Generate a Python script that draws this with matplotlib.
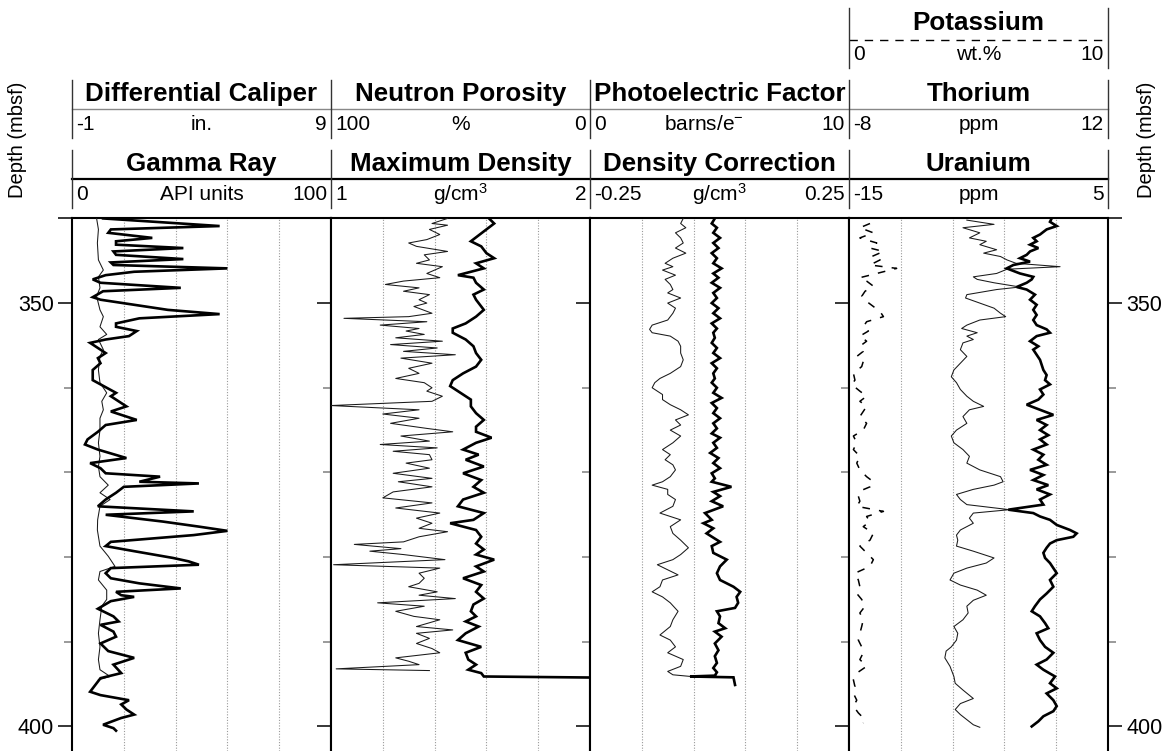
import matplotlib
matplotlib.use("Agg")
import matplotlib.pyplot as plt
from matplotlib.lines import Line2D

plt.rcParams['font.family'] = ['Liberation Sans', 'DejaVu Sans']
plt.rcParams['mathtext.fontset'] = 'custom'
plt.rcParams['mathtext.rm'] = 'Liberation Sans'
plt.rcParams['mathtext.it'] = 'Liberation Sans:italic'
plt.rcParams['mathtext.bf'] = 'Liberation Sans:bold'

# ---------------- data (depth in mbsf) ----------------
gr_depth = [340.0, 340.9, 341.3, 341.7, 342.3, 342.7, 343.1, 343.5, 343.9, 344.3, 344.8, 345.2, 345.5, 345.9,
            346.3, 346.7, 347.2, 347.6, 348.2, 348.6, 349.3, 349.6, 350.2, 350.8, 351.3, 351.8, 352.4, 352.8,
            353.3, 353.9, 354.3, 354.7, 355.5, 355.9, 356.5, 357.1, 357.9, 358.5, 359.1, 359.6, 360.6, 361.0,
            361.6, 362.2, 362.8, 363.8, 364.4, 365.2, 366.1, 366.7, 367.3, 368.3, 368.9, 369.5, 370.1, 370.5,
            371.1, 371.3, 371.7, 372.4, 373.2, 374.0, 374.6, 375.0, 375.8, 376.4, 376.9, 377.4, 378.2, 378.7,
            379.3, 380.1, 380.5, 380.9, 381.3, 381.9, 382.5, 383.1, 383.7, 384.1, 384.5, 384.7, 385.2, 386.1,
            387.0, 387.6, 388.0, 388.8, 389.4, 390.2, 391.1, 391.9, 392.7, 393.7, 394.3, 395.1, 395.9, 396.3,
            396.9, 397.4, 398.0, 398.6, 399.0, 399.8, 400.2, 400.5]
gamma_ray = [12, 57, 15, 14, 31, 17, 17, 43, 16, 17, 43, 15, 16, 60, 24, 13, 8, 11, 42, 12, 8, 11, 24, 37,
             57, 26, 17, 17, 25, 22, 13, 7, 11, 13, 10, 11, 8, 8, 8, 11, 17, 15, 18, 21, 15, 25, 13, 10, 6, 5,
             10, 21, 7, 11, 13, 34, 26, 49, 20, 17, 13, 10, 47, 13, 35, 49, 60, 47, 15, 13, 24, 39, 45, 49, 15,
             13, 15, 26, 42, 17, 19, 24, 15, 10, 16, 18, 11, 16, 17, 11, 14, 24, 16, 19, 11, 9, 7, 11, 22, 19,
             21, 24, 19, 12, 16, 17]

cal_depth = [340.0, 341.3, 342.9, 344.9, 346.1, 346.9, 348.2, 349.2, 350.8, 351.6, 352.8, 353.7, 354.3, 355.5,
             356.3, 357.9, 359.4, 360.6, 361.6, 362.6, 363.6, 365.0, 366.5, 368.1, 369.3, 370.5, 371.5, 372.4,
             373.2, 374.0, 375.6, 376.8, 378.7, 379.9, 381.1, 381.7, 382.7, 383.9, 385.0, 385.8, 387.4, 389.0,
             390.6, 392.1, 393.3, 394.1, 394.5]
diff_caliper = [-0.05, 0.02, -0.02, 0.02, 0.21, 0.02, 0.08, -0.05, 0.08, 0.21, 0.08, 0.34, 0.02, 0.21, 0.08,
                0.02, 0.08, 0.34, 0.15, 0.21, 0.08, 0.08, 0.02, 0.08, 0.02, 0.08, 0.40, 0.08, 0.47, 0.08, -0.01,
                -0.02, 0.08, 0.40, 0.66, 0.08, 0.02, 0.34, 0.34, 0.15, 0.08, 0.02, 0.08, 0.02, 0.08, 0.47, 0.02]

np_depth = [340.0, 340.6, 340.8, 341.3, 341.9, 342.5, 342.9, 343.3, 343.9, 344.3, 344.9, 345.3, 345.7, 346.5,
            347.0, 347.4, 347.8, 348.2, 348.6, 349.0, 349.6, 350.0, 350.4, 351.2, 351.6, 351.8, 352.2, 352.6,
            353.0, 353.3, 353.7, 354.1, 354.5, 354.9, 355.3, 355.7, 356.1, 356.5, 357.1, 357.7, 358.3, 358.9,
            359.4, 360.0, 360.4, 361.0, 361.6, 362.1, 362.6, 363.1, 363.6, 364.2, 364.8, 365.2, 365.7, 366.3,
            366.7, 367.1, 367.5, 367.9, 368.5, 368.9, 369.5, 370.1, 370.7, 371.1, 371.7, 372.3, 373.0, 373.6,
            374.2, 374.8, 375.4, 376.0, 376.6, 377.0, 377.6, 378.2, 378.5, 379.0, 379.3, 379.7, 380.3, 380.9,
            381.3, 381.9, 382.5, 383.1, 383.5, 384.1, 384.5, 384.9, 385.4, 385.8, 386.4, 387.0, 387.4, 388.2,
            388.6, 389.0, 389.6, 390.2, 390.8, 391.3, 391.9, 392.3, 392.7, 393.2, 393.4]
neutron_porosity = [55, 61, 55, 62, 58, 63, 70, 67, 55, 64, 62, 67, 57, 63, 58, 72, 79, 66, 72, 62, 66, 63, 68,
                    61, 70, 95, 63, 81, 66, 71, 64, 75, 57, 77, 59, 72, 52, 73, 61, 70, 66, 75, 64, 61, 63, 57,
                    61, 100, 66, 80, 66, 77, 63, 53, 73, 62, 81, 59, 76, 62, 61, 71, 62, 76, 61, 74, 61, 76, 80,
                    61, 75, 58, 67, 61, 66, 55, 66, 72, 91, 73, 85, 72, 56, 99, 58, 66, 64, 66, 70, 59, 66, 52,
                    82, 64, 75, 68, 58, 67, 53, 67, 62, 67, 61, 58, 75, 70, 66, 98, 62]

md_depth = [340.0, 340.6, 341.3, 342.7, 343.3, 344.1, 344.7, 345.3, 345.9, 346.7, 347.0, 347.6, 348.4, 349.0,
            349.6, 350.8, 351.6, 352.4, 353.0, 353.5, 354.3, 355.1, 355.9, 356.7, 357.5, 358.3, 359.1, 359.8,
            360.6, 361.4, 362.2, 363.0, 363.8, 364.6, 365.2, 365.9, 366.5, 367.3, 367.9, 368.5, 369.3, 370.1,
            370.9, 371.7, 372.4, 373.2, 374.0, 374.8, 375.6, 376.0, 376.8, 377.6, 378.4, 379.1, 379.7, 380.3,
            381.1, 381.7, 382.5, 383.3, 384.1, 384.9, 385.6, 386.4, 387.0, 387.6, 388.2, 389.0, 389.8, 390.6,
            391.3, 392.1, 392.7, 393.3, 393.7, 394.1, 394.4]
max_density = [1.61, 1.63, 1.60, 1.54, 1.58, 1.60, 1.63, 1.56, 1.59, 1.49, 1.55, 1.56, 1.59, 1.55, 1.56, 1.59,
               1.56, 1.52, 1.47, 1.47, 1.52, 1.55, 1.56, 1.58, 1.56, 1.51, 1.47, 1.46, 1.50, 1.54, 1.54, 1.56,
               1.59, 1.56, 1.56, 1.62, 1.56, 1.51, 1.57, 1.52, 1.59, 1.51, 1.58, 1.55, 1.59, 1.51, 1.49, 1.59,
               1.55, 1.46, 1.56, 1.58, 1.56, 1.59, 1.56, 1.63, 1.56, 1.59, 1.51, 1.58, 1.56, 1.59, 1.55, 1.54,
               1.56, 1.52, 1.57, 1.52, 1.49, 1.58, 1.52, 1.53, 1.56, 1.53, 1.58, 1.59, 2.6]

pef_depth = [340.0, 340.6, 341.1, 341.7, 342.3, 342.9, 343.5, 344.1, 344.7, 345.3, 345.7, 346.1, 346.7, 347.2,
             347.8, 348.4, 348.8, 349.4, 350.0, 350.6, 351.2, 352.0, 352.6, 353.1, 353.5, 353.9, 354.5, 355.1,
             355.9, 356.7, 357.5, 358.3, 358.9, 359.4, 360.0, 360.8, 361.4, 362.0, 362.6, 363.2, 363.8, 364.4,
             365.0, 365.7, 366.5, 367.3, 367.9, 368.5, 369.1, 369.7, 370.5, 371.1, 371.5, 372.0, 372.6, 373.2,
             374.0, 374.8, 375.6, 376.4, 377.2, 378.0, 378.9, 379.7, 380.3, 380.9, 381.5, 382.1, 382.7, 383.5,
             384.1, 384.7, 385.4, 386.4, 387.4, 388.2, 389.2, 389.8, 390.6, 391.3, 392.1, 392.9, 393.5, 393.9,
             394.1]
pef = [3.6, 3.5, 3.7, 3.3, 3.5, 3.6, 3.3, 3.7, 3.2, 2.9, 3.2, 2.8, 3.3, 2.9, 3.1, 3.2, 3.0, 3.5, 3.0, 3.3, 3.2,
       3.0, 2.4, 2.3, 2.4, 3.1, 3.4, 3.5, 3.5, 3.6, 3.5, 3.1, 2.7, 2.5, 2.4, 2.8, 2.8, 3.1, 3.5, 3.8, 3.3, 3.5,
       3.1, 3.5, 3.2, 2.8, 3.1, 2.9, 3.2, 3.3, 3.1, 2.8, 2.4, 3.0, 3.0, 3.3, 3.2, 2.7, 3.5, 3.1, 3.2, 3.5, 3.8,
       3.5, 3.2, 2.6, 3.0, 3.4, 2.8, 2.7, 2.4, 2.8, 3.1, 3.4, 3.2, 3.1, 2.7, 3.1, 3.3, 3.0, 3.6, 3.5, 3.0, 3.2,
       3.9]

dc_depth = [340.0, 340.6, 341.1, 341.7, 342.3, 342.9, 343.5, 344.1, 344.7, 345.3, 345.9, 346.5, 347.0, 347.6,
            348.2, 348.8, 349.4, 350.0, 350.6, 351.2, 351.8, 352.4, 353.0, 353.5, 354.1, 354.7, 355.3, 355.9,
            356.5, 357.1, 357.7, 358.3, 358.9, 359.4, 360.0, 360.6, 361.2, 361.8, 362.4, 363.0, 363.6, 364.2,
            364.8, 365.4, 365.9, 366.5, 367.1, 367.7, 368.3, 368.9, 369.5, 370.1, 370.7, 371.1, 371.7, 372.3,
            372.8, 373.4, 374.0, 374.8, 375.6, 376.0, 376.6, 377.2, 378.2, 378.7, 379.5, 380.3, 381.1, 381.9,
            382.7, 383.5, 384.1, 384.7, 385.4, 386.0, 386.4, 387.0, 387.8, 388.4, 388.8, 389.4, 390.2, 391.0,
            391.7, 392.5, 393.1, 393.6, 394.0, 394.1, 394.2, 395.1]
density_corr = [-0.009, -0.015, -0.005, -0.012, 0.001, -0.012, -0.002, -0.015, -0.005, -0.012, 0.004, -0.012,
                -0.002, -0.015, 0.001, -0.012, -0.005, -0.015, -0.002, -0.012, 0.001, -0.015, -0.005, -0.012,
                -0.009, -0.015, -0.005, -0.012, 0.001, -0.015, -0.005, -0.012, -0.009, -0.015, -0.005, -0.012,
                0.004, -0.015, -0.005, -0.012, 0.001, -0.012, -0.005, -0.015, 0.001, -0.012, -0.005, -0.018,
                -0.002, -0.012, 0.001, -0.015, -0.009, -0.015, 0.023, -0.012, 0.001, -0.015, 0.007, -0.028,
                -0.015, -0.031, -0.012, -0.025, 0.001, -0.015, -0.012, 0.014, 0.001, -0.005, 0.001, 0.027,
                0.040, 0.033, 0.036, 0.030, -0.005, 0.001, -0.002, 0.011, -0.009, 0.004, -0.009, -0.002,
                -0.009, -0.005, -0.012, -0.005, -0.009, -0.057, 0.027, 0.030]

k_depth = [340.6, 341.1, 341.7, 342.3, 342.9, 343.5, 343.9, 344.5, 344.9, 345.5, 345.9, 346.5, 347.0, 347.4,
           348.0, 348.6, 349.2, 349.8, 350.4, 351.0, 351.6, 352.2, 352.8, 353.3, 353.9, 354.5, 355.1, 355.7,
           356.3, 356.9, 357.5, 358.3, 359.1, 359.6, 360.4, 361.0, 361.6, 362.2, 362.8, 363.4, 364.2, 365.0,
           365.7, 366.5, 367.3, 368.1, 368.9, 369.7, 370.5, 371.1, 371.7, 372.2, 372.8, 373.4, 374.0, 374.6,
           375.2, 375.8, 376.4, 377.2, 378.0, 378.7, 379.5, 380.3, 381.1, 381.9, 382.7, 383.5, 384.3, 385.0,
           385.8, 386.6, 387.4, 388.2, 389.0, 389.8, 390.6, 391.3, 392.1, 392.9, 393.7, 394.5, 395.3, 396.1,
           396.9, 397.6, 398.4, 399.2, 399.6]
potassium = [0.81, 0.42, 0.94, 0.42, 1.07, 0.81, 1.33, 0.88, 1.20, 0.81, 1.84, 1.07, 0.42, 0.68, 0.94, 0.62,
             0.49, 0.68, 0.94, 1.20, 1.33, 0.68, 0.55, 0.75, 0.42, 0.68, 0.42, 0.55, 0.30, 0.55, 0.49, 0.17,
             0.23, 0.10, 0.42, 0.68, 0.42, 0.68, 0.55, 0.42, 0.68, 0.55, 0.17, 0.30, 0.17, 0.42, 0.30, 0.42,
             0.68, 0.94, 0.81, 0.42, 0.36, 0.42, 0.30, 1.33, 0.68, 0.81, 0.55, 0.94, 0.81, 0.42, 0.68, 0.94,
             0.81, 0.23, 0.36, 0.42, 0.30, 0.49, 0.62, 0.42, 0.55, 0.49, 0.42, 0.36, 0.49, 0.55, 0.42, 0.68,
             0.30, 0.17, 0.23, 0.17, 0.30, 0.17, 0.36, 0.62, 0.55]

th_depth = [340.2, 340.7, 341.1, 341.7, 342.3, 342.7, 343.1, 343.7, 344.1, 344.5, 344.9, 345.3, 345.7, 346.0,
            346.5, 346.9, 347.2, 347.6, 348.1, 348.4, 349.0, 349.4, 350.0, 350.6, 351.2, 351.6, 352.0, 352.6,
            353.0, 353.5, 353.9, 354.3, 354.7, 355.5, 356.3, 357.1, 357.9, 358.7, 359.4, 360.2, 361.0, 361.6,
            362.2, 362.6, 363.4, 364.2, 365.0, 365.7, 366.5, 367.3, 368.1, 368.9, 369.7, 370.5, 371.1, 371.5,
            372.0, 372.6, 373.2, 373.8, 374.4, 374.8, 375.4, 376.0, 376.8, 377.4, 378.0, 378.7, 379.3, 380.1,
            380.7, 381.3, 381.9, 382.7, 383.3, 383.9, 384.5, 385.1, 385.8, 386.6, 387.4, 388.2, 389.0, 389.8,
            390.6, 391.1, 391.9, 392.9, 394.1, 394.9, 395.7, 396.7, 397.3, 398.0, 398.6, 399.2, 399.8, 400.1]
thorium = [1.1, 3.2, 0.8, 2.1, 1.3, 2.6, 2.1, 3.4, 2.4, 3.7, 4.2, 4.9, 8.3, 4.2, 3.4, 1.6, 1.9, 3.2, 5.2, 3.4,
           1.1, 1.0, 2.1, 3.2, 3.7, 4.1, 2.1, 1.1, 0.7, 1.9, 1.1, 1.6, 0.8, 0.6, 1.1, 0.6, 0.1, -0.1, 0.3, 0.6,
           1.1, 1.6, 2.4, 1.3, 0.8, 1.1, 0.3, -0.1, 0.1, 0.8, 1.3, 1.1, 2.1, 3.7, 3.9, 3.2, 1.6, 0.3, 0.6, 1.1,
           4.4, 1.6, 1.3, 1.6, 0.6, 0.3, 0.4, 0.3, 1.6, 3.2, 2.6, 1.1, 0.1, -0.2, 0.6, 1.9, 2.6, 1.6, 1.1, 1.2,
           0.8, 0.1, 0.4, 0.3, -0.1, -0.5, -0.6, -0.2, 0.1, 0.2, 0.8, 1.6, 0.6, 0.2, 0.6, 1.1, 1.6, 2.1]

u_depth = [340.0, 340.4, 340.9, 341.3, 341.9, 342.3, 342.7, 343.1, 343.5, 343.9, 344.3, 344.7, 345.1, 345.5,
           345.9, 346.5, 346.9, 347.2, 347.6, 348.1, 348.4, 349.0, 349.6, 350.2, 350.8, 351.4, 352.0, 352.6,
           353.1, 353.5, 353.9, 354.5, 355.1, 355.5, 356.1, 356.7, 357.3, 357.9, 358.5, 359.1, 359.6, 360.2,
           360.8, 361.4, 362.0, 362.6, 363.2, 363.8, 364.4, 365.0, 365.6, 366.1, 366.7, 367.3, 367.9, 368.5,
           369.1, 369.7, 370.3, 370.9, 371.5, 372.0, 372.6, 373.2, 373.8, 374.4, 374.8, 375.2, 375.6, 376.2,
           376.8, 377.2, 377.6, 378.0, 378.4, 378.9, 379.5, 380.1, 380.7, 381.3, 381.9, 382.7, 383.5, 384.3,
           385.0, 385.8, 386.4, 387.0, 387.8, 388.4, 389.0, 389.8, 390.6, 391.3, 392.1, 392.7, 393.3, 394.1,
           394.9, 395.5, 396.1, 396.9, 397.6, 398.2, 398.8, 399.4, 400.0]
uranium = [0.65, 0.52, 1.04, 0.26, -0.25, -0.77, -0.51, -1.02, -0.38, -1.02, -1.28, -1.80, -1.02, -2.31, -2.82,
           -1.80, -0.77, -0.89, -1.28, -2.05, -1.28, -0.64, -1.02, -0.51, -0.77, -0.51, -0.77, -0.51, 0.26, 0.52,
           -0.51, -1.02, -0.38, -0.77, -0.51, -0.25, -0.12, 0.01, 0.26, 0.14, 0.52, -0.25, 0.01, -0.38, -1.28,
           -0.25, 0.78, -0.51, 0.26, -0.25, 0.39, -0.25, 0.26, -0.77, 0.01, -0.38, 0.26, -1.02, 0.01, -0.77,
           0.39, -0.51, 0.52, -0.25, 0.01, -2.70, -0.77, -0.25, 0.52, 1.04, 2.07, 2.58, 2.32, 1.04, 0.52, 0.26,
           0.01, 0.14, 0.52, 0.78, 1.04, 0.52, 0.78, 0.26, -0.25, -0.64, -0.89, -0.25, 0.14, 0.39, -0.51, -0.25,
           0.14, 0.78, 0.26, -0.51, 0.01, 0.91, 0.52, 1.04, 0.26, 0.78, 1.04, 0.78, 0.01, -0.38, -0.89]

# header text
row1_titles = ["", "", "", "Potassium"]
row1_left = ["", "", "", "0"]
row1_units = ["", "", "", "wt.%"]
row1_right = ["", "", "", "10"]
row2_titles = ["Differential Caliper", "Neutron Porosity", "Photoelectric Factor", "Thorium"]
row2_left = ["-1", "100", "0", "-8"]
row2_units = ["in.", "%", "barns/e$^{-}$", "ppm"]
row2_right = ["9", "0", "10", "12"]
row3_titles = ["Gamma Ray", "Maximum Density", "Density Correction", "Uranium"]
row3_left = ["0", "1", "-0.25", "-15"]
row3_units = ["API units", "g/cm$^{3}$", "g/cm$^{3}$", "ppm"]
row3_right = ["100", "2", "0.25", "5"]

depth_labels = ["", "350", "400"]
depth_major = [340, 350, 400]
depth_minor = [360, 370, 380, 390]

THICK = dict(color='black', lw=1.9, solid_joinstyle='miter')
THIN = dict(color='#1a1a1a', lw=0.75)
DASH = dict(color='black', lw=1.1, dashes=(5, 6))

tracks = [
    [(diff_caliper, cal_depth, (-1, 9), THIN), (gamma_ray, gr_depth, (0, 100), THICK)],
    [(neutron_porosity, np_depth, (100, 0), THIN), (max_density, md_depth, (1, 2), THICK)],
    [(pef, pef_depth, (0, 10), THIN), (density_corr, dc_depth, (-0.25, 0.25), THICK)],
    [(potassium, k_depth, (0, 10), DASH), (thorium, th_depth, (-8, 12), THIN), (uranium, u_depth, (-15, 5), THICK)],
]

# ---------------- layout (pixels) ----------------
W, H = 1174, 751
fig = plt.figure(figsize=(W / 100, H / 100), dpi=100)


def fx(px):
    return px / W


def fy(py):
    return 1 - py / H


track_x = [72, 331, 590, 849]
track_w = 259
data_top = 218

for i, curves in enumerate(tracks):
    ax = fig.add_axes([fx(track_x[i]), 0, track_w / W, (H - data_top) / H])
    ax.set_xlim(0, 1)
    ax.set_ylim(402.9, 339.95)
    for k in range(1, 5):
        ax.axvline(k / 5, color='#9a9a9a', lw=0.8, ls=(0, (1, 1.5)), zorder=0)
    ax.set_xticks([])
    ax.set_yticks(depth_major)
    ax.set_yticklabels(depth_labels)
    ax.set_yticks(depth_minor, minor=True)
    ax.tick_params(axis='y', which='major', direction='out', length=10, width=1.1, color='black',
                   left=True, right=True, labelleft=(i == 0), labelright=(i == 3), labelsize=15.5, pad=3)
    ax.tick_params(axis='y', which='minor', direction='out', length=6, width=1.1, color='#7f7f7f',
                   left=True, right=True)
    for s in ['left', 'right', 'top']:
        ax.spines[s].set_linewidth(1.5)
    ax.spines['bottom'].set_visible(False)
    for vals, dep, lim, style in curves:
        t = ax.twiny()
        t.set_xlim(*lim)
        t.set_xticks([])
        for s in t.spines.values():
            s.set_visible(False)
        t.plot(vals, dep, **style)

# ---------------- header ----------------
rows = [
    (row1_titles, row1_left, row1_units, row1_right, 8, 68, 23, 40, 54,
     dict(color='black', lw=1.0, dashes=(6, 5))),
    (row2_titles, row2_left, row2_units, row2_right, 80, 138, 94, 109, 125,
     dict(color='#888888', lw=1.0)),
    (row3_titles, row3_left, row3_units, row3_right, 150, 208, 164, 179, 194,
     dict(color='black', lw=1.6)),
]
for titles, lefts, units, rights, y0, y1, yt, yl, yv, lstyle in rows:
    used = [i for i in range(4) if titles[i]]
    xa = track_x[used[0]]
    xb = track_x[used[-1]] + track_w
    fig.add_artist(Line2D([fx(xa), fx(xb)], [fy(yl), fy(yl)], **lstyle))
    edges = sorted(set([track_x[i] for i in used] + [track_x[i] + track_w for i in used]))
    for e in edges:
        fig.add_artist(Line2D([fx(e), fx(e)], [fy(y0), fy(y1)], color='#333333', lw=1.0))
    for i in used:
        cx = track_x[i] + track_w / 2
        ux = cx - 16 if units[i].startswith('barns') else cx
        fig.text(fx(cx), fy(yt), titles[i], ha='center', va='center', fontsize=18.7, fontweight='bold')
        fig.text(fx(track_x[i] + 4), fy(yv), lefts[i], ha='left', va='center', fontsize=15)
        fig.text(fx(ux), fy(yv), units[i], ha='center', va='center', fontsize=15)
        fig.text(fx(track_x[i] + track_w - 4), fy(yv), rights[i], ha='right', va='center', fontsize=15)

fig.text(fx(18), fy(140), 'Depth (mbsf)', rotation=90, ha='center', va='center', fontsize=14.5)
fig.text(fx(1146), fy(140), 'Depth (mbsf)', rotation=90, ha='center', va='center', fontsize=14.5)

fig.savefig('out.png', dpi=100)
